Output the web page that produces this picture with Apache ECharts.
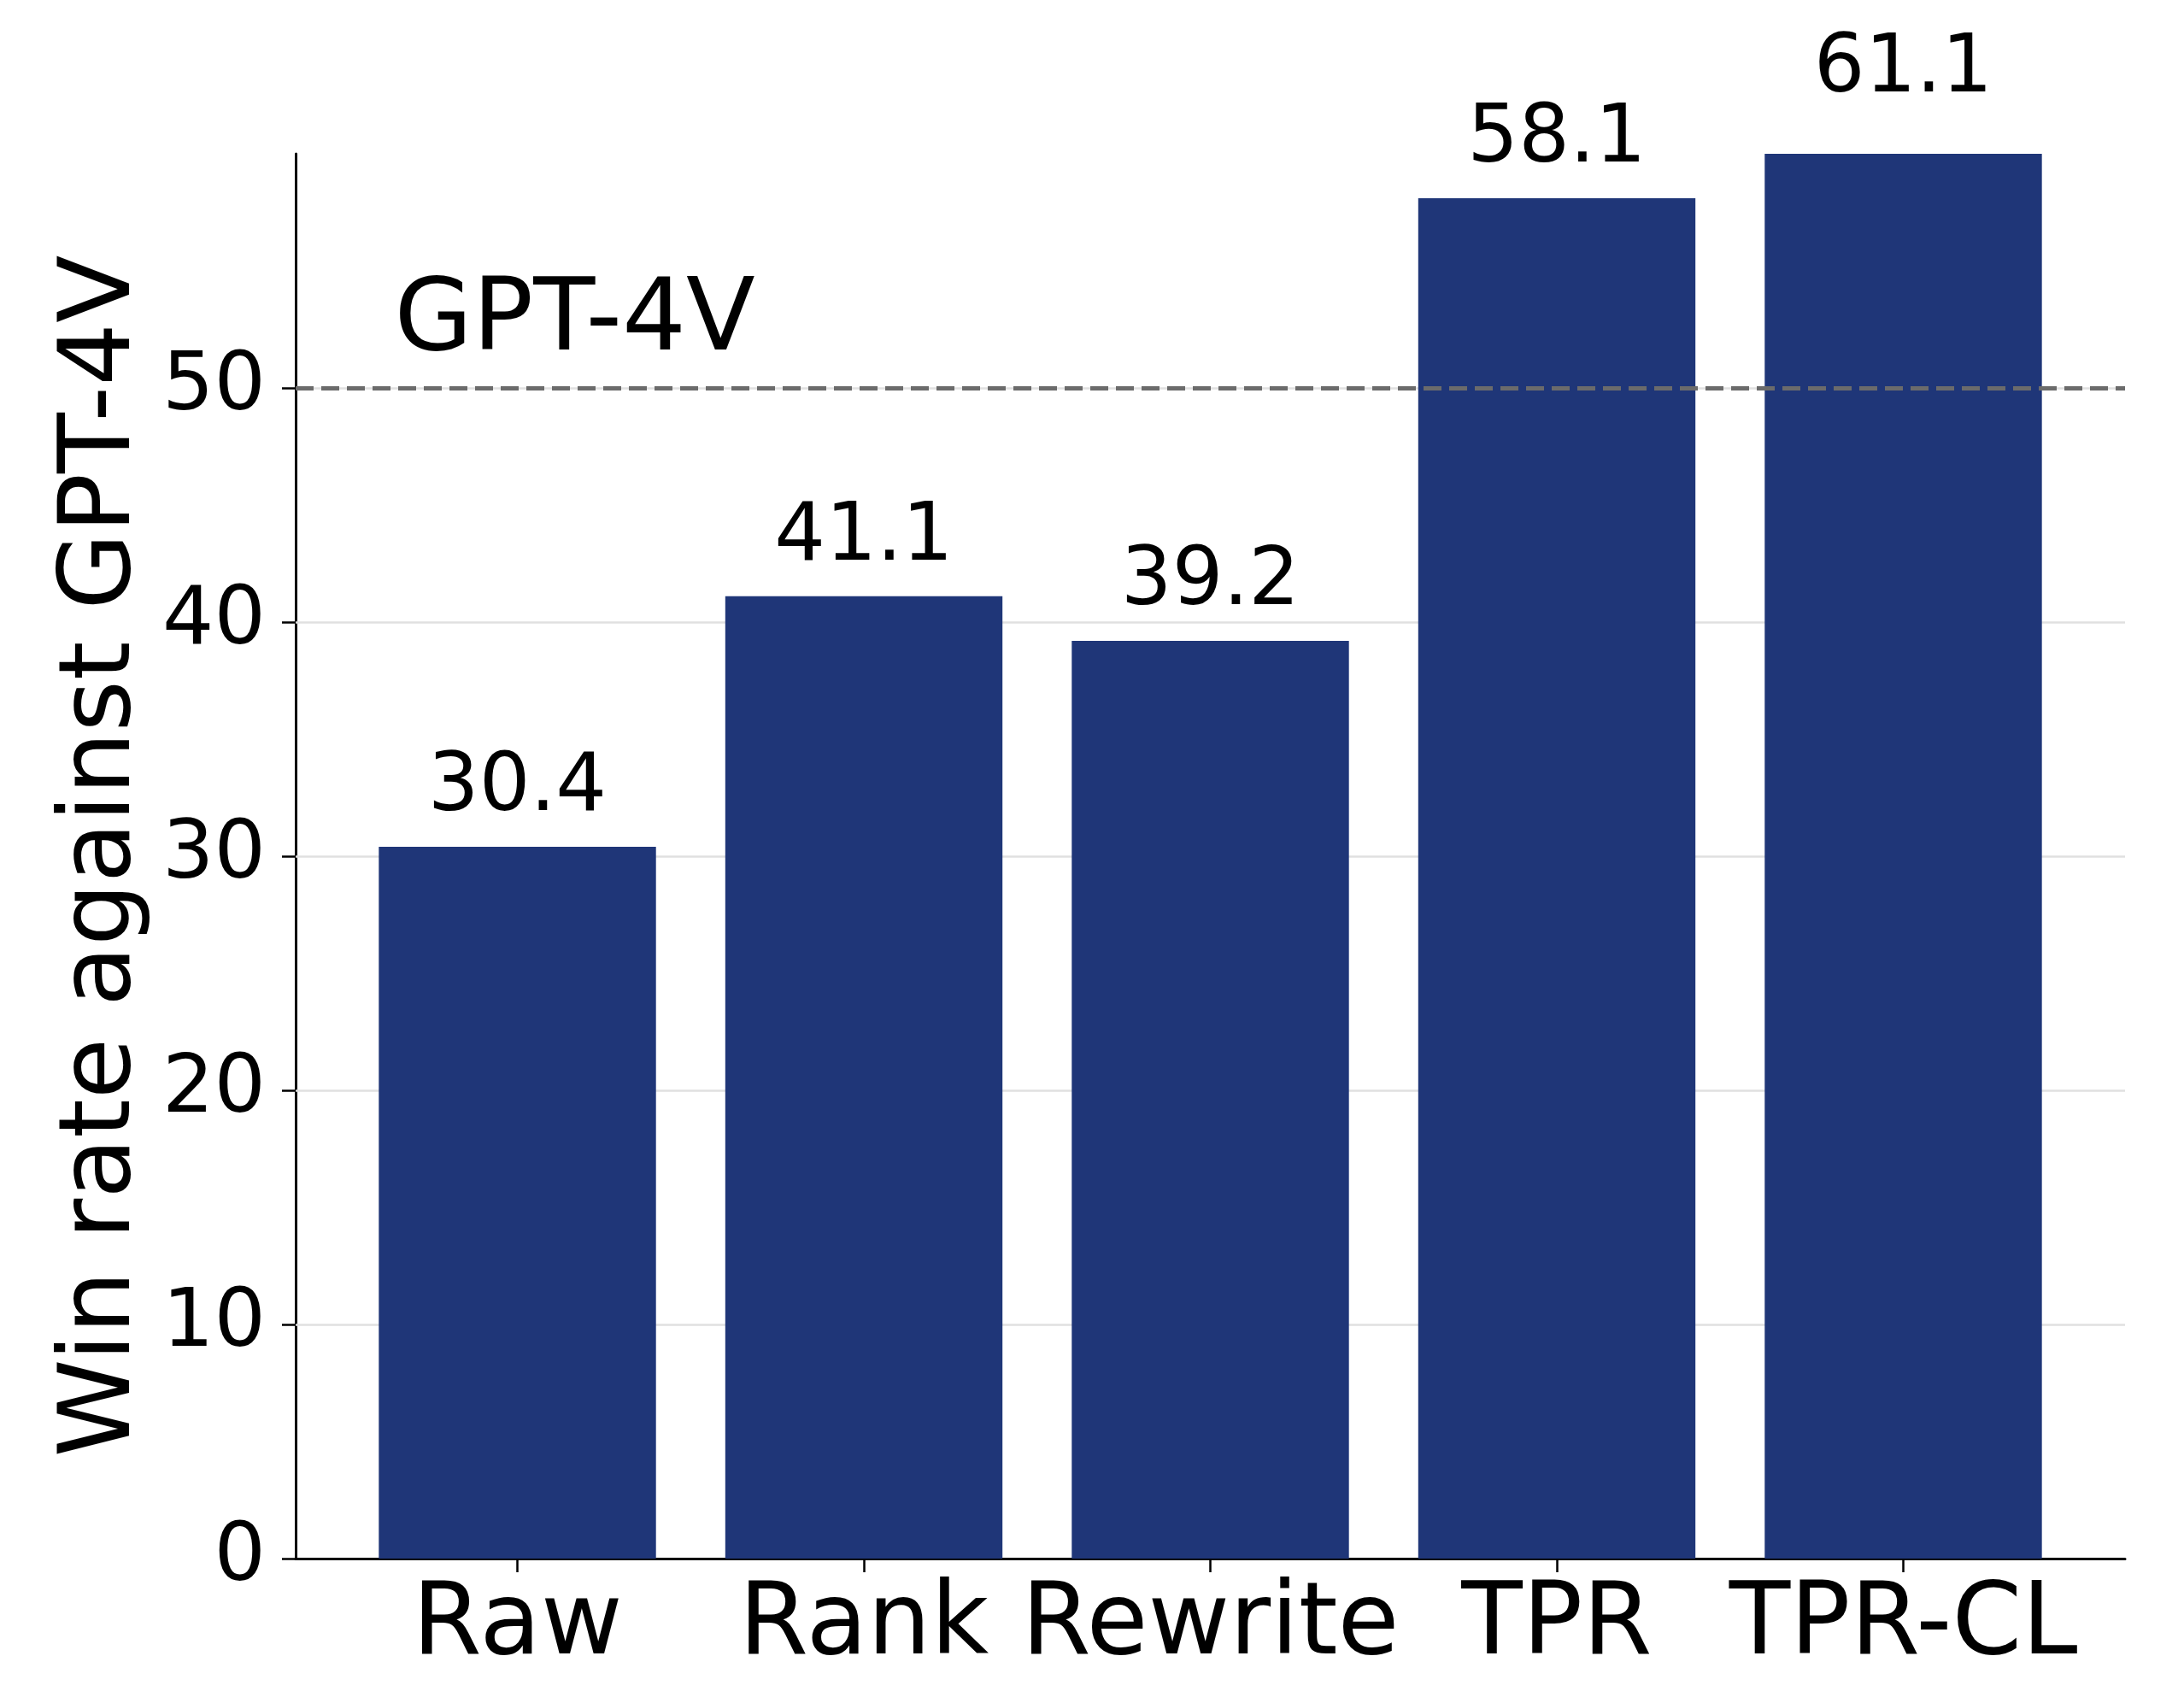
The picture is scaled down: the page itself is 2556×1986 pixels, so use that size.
<!DOCTYPE html>
<html>
<head>
<meta charset="utf-8">
<script src="https://cdn.jsdelivr.net/npm/echarts@6/dist/echarts.min.js"></script>
<style>
  html, body { margin: 0; padding: 0; background: #fff; }
  #chart { width: 2556px; height: 1986px; }
</style>
</head>
<body>
<div id="chart"></div>
<script>
// data
const categories = ['Raw', 'Rank', 'Rewrite', 'TPR', 'TPR-CL'];
const winRates = [30.4, 41.1, 39.2, 58.1, 61.1];
const yTicks = [0, 10, 20, 30, 40, 50];
const gridValues = [10, 20, 30, 40, 50];
const refLine = 50;
const refName = 'GPT-4V';
const refTextAt = [-0.355, 50.6];

const font = 'DejaVu Sans';
const barColor = '#1f3678';
const catIdx = categories.map((c, i) => i);
const points = categories.map((c, i) => [i, winRates[i]]);

var myChart = echarts.init(document.getElementById('chart'));

const option = {
  animation: false,
  backgroundColor: '#fff',
  grid: { left: 346, right: 69, top: 180, bottom: 162 },
  xAxis: {
    type: 'value',
    min: -0.64,
    max: 4.64,
    splitLine: { show: false },
    axisLine: { show: true, onZero: false, lineStyle: { color: '#000', width: 3 } },
    axisTick: { show: true, customValues: catIdx, length: 16, lineStyle: { color: '#000', width: 2.5 } },
    axisLabel: {
      customValues: catIdx,
      formatter: v => categories[Math.round(v)] || '',
      fontFamily: font, fontSize: 117, color: '#000', margin: 22
    }
  },
  yAxis: {
    type: 'value',
    min: 0,
    max: 60,
    interval: 10,
    name: 'Win rate against GPT-4V',
    nameLocation: 'middle',
    nameGap: 165,
    nameTextStyle: { fontFamily: font, fontSize: 116, color: '#000' },
    splitLine: { show: false },
    axisLine: { show: true, onZero: false, lineStyle: { color: '#000', width: 3 } },
    axisTick: { show: true, customValues: yTicks, length: 16, lineStyle: { color: '#000', width: 2.5 } },
    axisLabel: {
      customValues: yTicks,
      fontFamily: font, fontSize: 95, color: '#000', margin: 35
    }
  },
  series: [
    {
      // light grid behind the bars
      type: 'line',
      data: [],
      z: 1,
      silent: true,
      markLine: {
        z: 1,
        silent: true,
        symbol: 'none',
        label: { show: false },
        lineStyle: { color: '#e0e0e0', width: 2.5, type: 'solid' },
        data: gridValues.map(v => ({ yAxis: v }))
      }
    },
    {
      type: 'bar',
      data: points,
      barWidth: '80%',
      z: 2,
      itemStyle: { color: barColor },
      clip: true
    },
    {
      // value labels and the reference line on top
      type: 'scatter',
      data: points,
      symbolSize: 0,
      clip: false,
      z: 3,
      silent: true,
      itemStyle: { color: '#000' },
      label: {
        show: true,
        position: 'top',
        distance: 20,
        formatter: p => p.value[1].toFixed(1),
        fontFamily: font, fontSize: 94, color: '#000', opacity: 1
      },
      markLine: {
        z: 6,
        silent: true,
        symbol: 'none',
        label: { show: false },
        lineStyle: { color: '#6b6b6b', width: 5, type: [21, 9] },
        data: [{ yAxis: refLine }]
      },
      markPoint: {
        silent: true,
        symbol: 'circle',
        symbolSize: 0,
        itemStyle: { color: '#000' },
        label: {
          show: true,
          position: 'inside',
          align: 'left',
          verticalAlign: 'bottom',
          formatter: refName,
          fontFamily: font, fontSize: 118, color: '#000'
        },
        data: [{ coord: refTextAt }]
      }
    }
  ]
};

myChart.setOption(option);
</script>
</body>
</html>
